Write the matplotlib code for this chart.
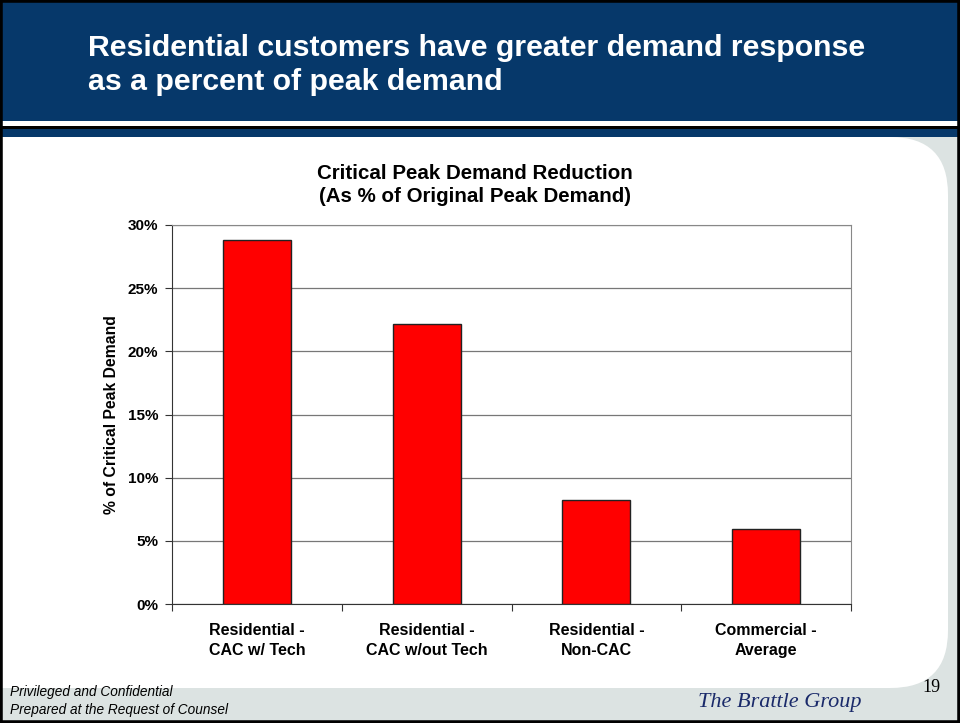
import matplotlib.pyplot as plt
from matplotlib.patches import Rectangle, FancyBboxPatch

categories = ['Residential -\nCAC w/ Tech', 'Residential -\nCAC w/out Tech',
              'Residential -\nNon-CAC', 'Commercial -\nAverage']
values = [28.8, 22.2, 8.2, 5.9]
yticks = [0, 5, 10, 15, 20, 25, 30]

W, H = 960, 723
NAVY = '#06386a'
BG = '#dce3e2'

plt.rcParams['font.family'] = ['Liberation Sans', 'DejaVu Sans']

fig = plt.figure(figsize=(W / 100, H / 100), dpi=100)
fig.patch.set_facecolor(BG)


def fx(px):
    return px / W


def fy(py):
    return 1 - py / H


# white rounded panel
panel = FancyBboxPatch((fx(-100), fy(688)), fx(948 + 100), (688 - 137) / H,
                       boxstyle='round,pad=0,rounding_size=0.06',
                       transform=fig.transFigure, facecolor='white',
                       edgecolor='none', mutation_aspect=W / H, zorder=0)
fig.patches.append(panel)

# header band
fig.patches.append(Rectangle((0, fy(121)), 1, 121 / H, transform=fig.transFigure,
                             facecolor=NAVY, edgecolor='none', zorder=1))
fig.patches.append(Rectangle((0, fy(126)), 1, 5 / H, transform=fig.transFigure,
                             facecolor='white', edgecolor='none', zorder=1))
fig.patches.append(Rectangle((0, fy(129)), 1, 3 / H, transform=fig.transFigure,
                             facecolor='black', edgecolor='none', zorder=1))
fig.patches.append(Rectangle((0, fy(137)), 1, 8 / H, transform=fig.transFigure,
                             facecolor=NAVY, edgecolor='none', zorder=1))
# outer border
fig.patches.append(Rectangle((0, 0), 1, 1, transform=fig.transFigure,
                             facecolor='none', edgecolor='black', linewidth=4, zorder=5))

fig.text(fx(88), fy(48), 'Residential customers have greater demand response',
         color='white', fontsize=21.8, fontweight='bold', va='center', ha='left')
fig.text(fx(88), fy(82), 'as a percent of peak demand',
         color='white', fontsize=21.8, fontweight='bold', va='center', ha='left')

# footer
fig.text(fx(10), fy(692), 'Privileged and Confidential', fontsize=9.8,
         style='italic', va='center', ha='left')
fig.text(fx(10), fy(710), 'Prepared at the Request of Counsel', fontsize=9.8,
         style='italic', va='center', ha='left')
fig.text(fx(780), fy(703), 'The Brattle Group', fontsize=16, style='italic',
         family='Liberation Serif', color='#1a2a6a', va='center', ha='center')
fig.text(fx(931), fy(687), '19', fontsize=13, family='Liberation Serif',
         va='center', ha='center')

# chart
ax = fig.add_axes([fx(172), fy(604), (851 - 172) / W, (604 - 225) / H])
ax.set_zorder(3)
ax.set_facecolor('white')
x = list(range(len(categories)))
ax.bar(x, values, width=0.4, color='#ff0000', edgecolor='#222222', linewidth=1, zorder=3)
ax.set_xlim(-0.5, len(categories) - 0.5)
ax.set_ylim(0, 30)
ax.set_yticks(yticks)
ax.set_yticklabels([f'{v}%' for v in yticks], fontsize=11, fontweight='bold')
ax.yaxis.grid(True, color='#777777', linewidth=0.9, zorder=0)
ax.set_xticks([i + 0.5 for i in range(-1, len(categories))], minor=False)
ax.set_xticklabels([])
ax.set_xticks(x, minor=True)
ax.set_xticklabels(categories, minor=True, fontsize=11.5, fontweight='bold',
                   linespacing=1.35)
ax.tick_params(axis='x', which='minor', length=0, pad=14)
ax.tick_params(axis='x', which='major', length=5, direction='out', color='#333333')
ax.tick_params(axis='y', length=5, direction='out', color='#333333', pad=5)
for s in ['top', 'right']:
    ax.spines[s].set_color('#888888')
for s in ['left', 'bottom']:
    ax.spines[s].set_color('#333333')
ax.set_ylabel('% of Critical Peak Demand', fontsize=11.3, fontweight='bold', labelpad=6)

fig.text(fx(475), fy(185), 'Critical Peak Demand Reduction\n(As % of Original Peak Demand)',
         fontsize=14.8, fontweight='bold', ha='center', va='center', linespacing=1.3)

fig.savefig('out.png', dpi=100, facecolor=fig.get_facecolor())
